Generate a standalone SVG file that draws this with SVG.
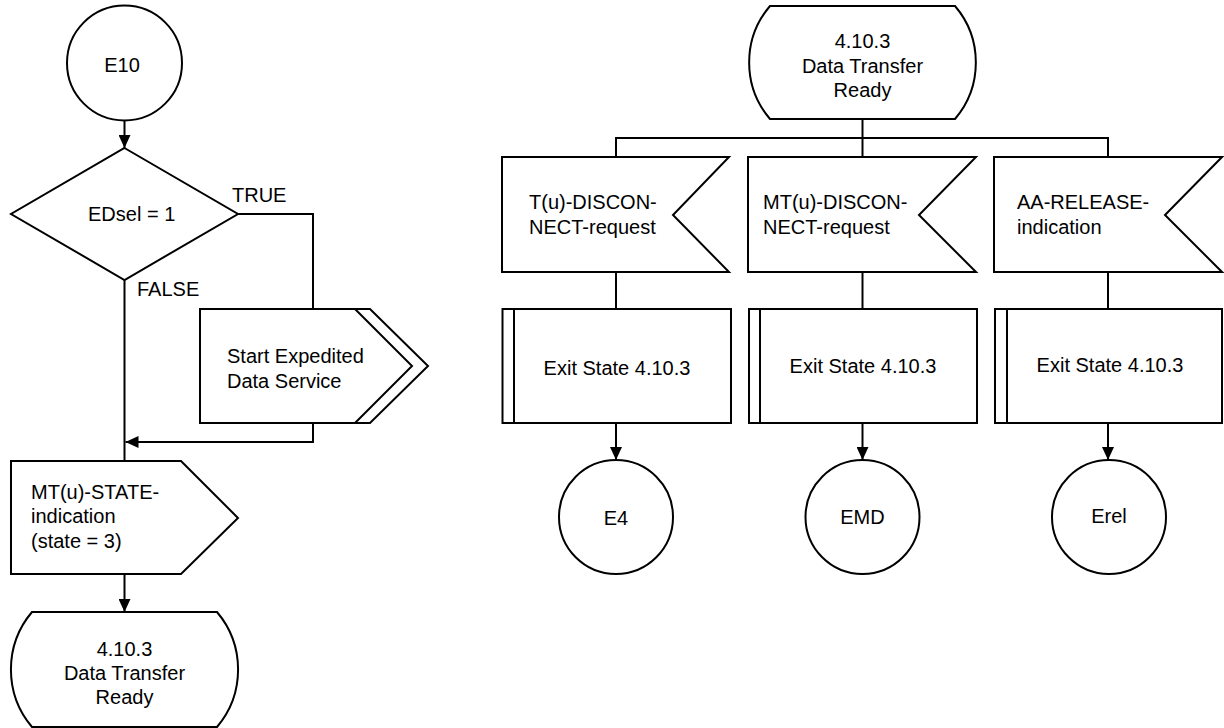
<svg xmlns="http://www.w3.org/2000/svg" width="1224" height="728" viewBox="0 0 1224 728">
<style>
.s{fill:#fff;stroke:#000;stroke-width:2}
.l{fill:none;stroke:#000;stroke-width:2}
.c{stroke:#000;stroke-width:2;fill:none}
text{font-family:"Liberation Sans",Arial,sans-serif;font-size:20px;fill:#000}
.m{text-anchor:middle}
</style>
<defs>
<marker id="ah" viewBox="0 0 13 12" refX="13" refY="6" markerWidth="13" markerHeight="12" markerUnits="userSpaceOnUse" orient="auto">
<path d="M0,0 L13,6 L0,12 z" fill="#000"/>
</marker>
</defs>
<rect width="1224" height="728" fill="#fff"/>
<g id="connectors">
<line class="c" x1="124.5" y1="121" x2="124.5" y2="148" marker-end="url(#ah)"/>
<polyline class="c" points="238,214 313,214 313,309"/>
<line class="c" x1="124.5" y1="280" x2="124.5" y2="461"/>
<polyline class="c" points="313,423 313,442 125.5,442" marker-end="url(#ah)"/>
<line class="c" x1="124.5" y1="574" x2="124.5" y2="612" marker-end="url(#ah)"/>
<line class="c" x1="862.5" y1="119" x2="862.5" y2="157"/>
<polyline class="c" points="616,157 616,138 1108,138 1108,157"/>
<line class="c" x1="616" y1="272" x2="616" y2="309"/>
<line class="c" x1="862.5" y1="272" x2="862.5" y2="309"/>
<line class="c" x1="1108" y1="272" x2="1108" y2="309"/>
<line class="c" x1="616" y1="423" x2="616" y2="460" marker-end="url(#ah)"/>
<line class="c" x1="862.5" y1="423" x2="862.5" y2="460" marker-end="url(#ah)"/>
<line class="c" x1="1108" y1="423" x2="1108" y2="460" marker-end="url(#ah)"/>
<text x="232" y="202">TRUE</text>
<text x="137" y="296">FALSE</text>
</g>
<g id="E10">
<circle class="s" cx="124.5" cy="63" r="57.5"/>
<text class="m" x="122" y="72">E10</text>
</g>
<g id="decision">
<polygon class="s" points="124.5,148 238,214 124.5,280 11,214"/>
<text x="88" y="221">EDsel = 1</text>
</g>
<g id="startExpedited">
<polygon class="s" points="200,309 370,309 428,366 370,423 200,423"/>
<polyline class="l" points="355,309 412,366 355,423"/>
<text x="227" y="363">Start Expedited</text>
<text x="227" y="388">Data Service</text>
</g>
<g id="mtStateIndication">
<polygon class="s" points="11,461 181,461 238,518 181,574 11,574"/>
<text x="31" y="499">MT(u)-STATE-</text>
<text x="31" y="523">indication</text>
<text x="31" y="548">(state = 3)</text>
</g>
<g id="stateBottom">
<path class="s" d="M32,612 L217,612 A89 89 0 0 1 217,727 L32,727 A89 89 0 0 1 32,612 Z"/>
<text class="m" x="124.5" y="656">4.10.3</text>
<text class="m" x="124.5" y="680">Data Transfer</text>
<text class="m" x="124.5" y="704">Ready</text>
</g>
<g id="stateTop">
<path class="s" d="M770,6 L955,6 A87 87 0 0 1 955,119 L770,119 A87 87 0 0 1 770,6 Z"/>
<text class="m" x="862.5" y="48">4.10.3</text>
<text class="m" x="862.5" y="72.5">Data Transfer</text>
<text class="m" x="862.5" y="97">Ready</text>
</g>
<g id="input1">
<polygon class="s" points="502,157 729,157 673,215 729,272 502,272"/>
<text x="529" y="209">T(u)-DISCON-</text>
<text x="529" y="234">NECT-request</text>
</g>
<g id="input2">
<polygon class="s" points="748,157 976,157 919,215 976,272 748,272"/>
<text x="763" y="209">MT(u)-DISCON-</text>
<text x="763" y="234">NECT-request</text>
</g>
<g id="input3">
<polygon class="s" points="994,157 1222,157 1165,215 1222,272 994,272"/>
<text x="1017" y="209">AA-RELEASE-</text>
<text x="1017" y="234">indication</text>
</g>
<g id="exit1">
<rect class="s" x="502.5" y="309" width="228.5" height="114"/>
<line class="l" x1="514" y1="309" x2="514" y2="423"/>
<text class="m" x="617" y="375">Exit State 4.10.3</text>
</g>
<g id="exit2">
<rect class="s" x="749" y="309" width="228" height="114"/>
<line class="l" x1="760" y1="309" x2="760" y2="423"/>
<text class="m" x="863" y="373">Exit State 4.10.3</text>
</g>
<g id="exit3">
<rect class="s" x="995" y="309" width="227" height="114"/>
<line class="l" x1="1007" y1="309" x2="1007" y2="423"/>
<text class="m" x="1110" y="372">Exit State 4.10.3</text>
</g>
<g id="E4">
<circle class="s" cx="616" cy="517" r="57"/>
<text class="m" x="616" y="525">E4</text>
</g>
<g id="EMD">
<circle class="s" cx="862.5" cy="517" r="57"/>
<text class="m" x="862.5" y="524">EMD</text>
</g>
<g id="Erel">
<circle class="s" cx="1109" cy="517" r="57"/>
<text class="m" x="1109" y="523">Erel</text>
</g>
</svg>
